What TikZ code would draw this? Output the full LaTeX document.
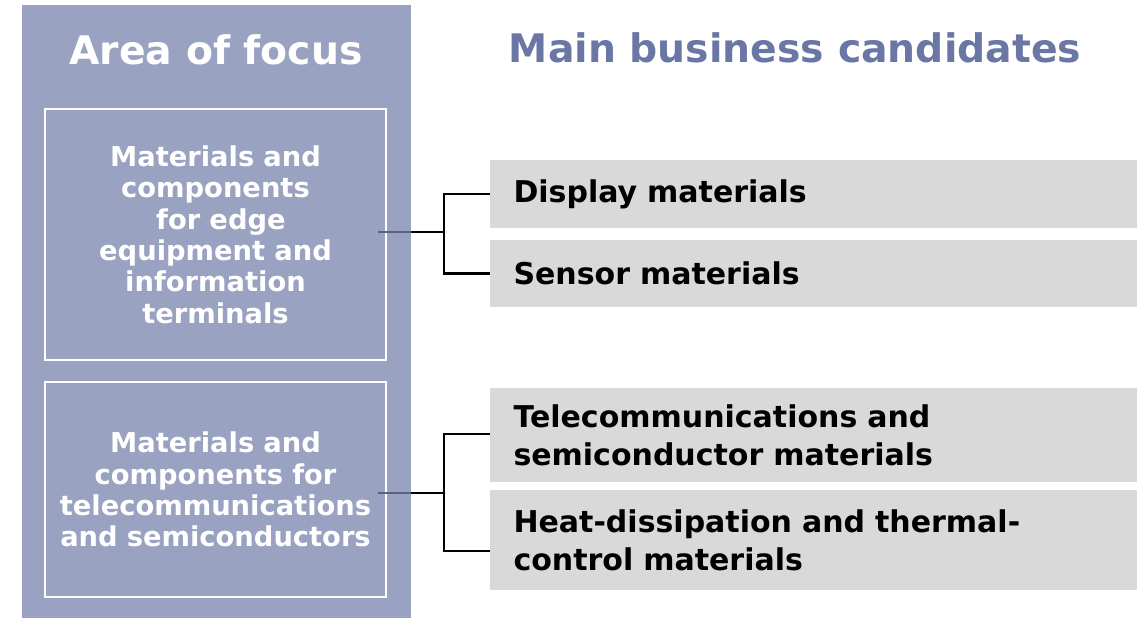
\documentclass[tikz,border=0pt]{standalone}
\usepackage{fontspec}
\setmainfont{DejaVu Sans}
\definecolor{panelc}{HTML}{99A2C0}
\definecolor{titlec}{HTML}{6A77A5}
\definecolor{grayc}{HTML}{D9D9D9}
\definecolor{darkln}{HTML}{5A6282}
\begin{document}
\begin{tikzpicture}[x=0.75pt,y=-0.75pt,
  panel/.style={fill=panelc,inner sep=0pt,minimum width=389*0.75pt,minimum height=613*0.75pt},
  focusbox/.style={draw=white,line width=1.5pt,inner sep=0pt,minimum width=341*0.75pt,text width=336*0.75pt,align=center,text=white,font=\fontsize{20.5}{23.5}\selectfont\bfseries},
  candbox/.style={fill=grayc,inner sep=0pt,minimum width=647*0.75pt,text width=600*0.75pt,align=left,font=\fontsize{22.5}{28.5}\selectfont\bfseries},
  conn/.style={line width=2.2pt,black},
  connin/.style={line width=2.2pt,darkln}]
\useasboundingbox (0,0) rectangle (1147,620);
\node[panel] (panel) at (216.5,311.5) {};
\node[text=white,font=\fontsize{29.5}{34}\selectfont\bfseries] (t1) at (216,50) {Area of focus};
\node[text=titlec,font=\fontsize{29.5}{34}\selectfont\bfseries] (t2) at (795,48) {Main business candidates};
\node[focusbox,minimum height=251*0.75pt] (f1) at (215.5,234.5) {Materials and\\components\\\hspace{0.4em}for edge\\equipment and\\information\\terminals};
\node[focusbox,minimum height=215*0.75pt] (f2) at (215.5,489.5) {Materials and\\components for\\telecommunications\\and semiconductors};
\node[candbox,minimum height=68*0.75pt] (d1) at (813.5,194) {Display materials};
\node[candbox,minimum height=67*0.75pt] (d2) at (813.5,273.5) {Sensor materials};
\node[candbox,minimum height=94*0.75pt] (d3) at (813.5,435) {Telecommunications and\\semiconductor materials};
\node[candbox,minimum height=100*0.75pt] (d4) at (813.5,540) {Heat-dissipation and thermal-\\control materials};
\coordinate (s1) at (378,232);
\coordinate (j1) at (444,232);
\coordinate (s2) at (378,493);
\coordinate (j2) at (444,493);
\draw[connin] (s1) -- (panel.east |- s1);
\draw[conn] (panel.east |- s1) -- (j1);
\draw[conn] (d1.west) -- (j1 |- d1.west) -- (j1 |- d2.west) -- (d2.west);
\draw[connin] (s2) -- (panel.east |- s2);
\draw[conn] (panel.east |- s2) -- (j2);
\draw[conn] (d3.west |- 0,434) -- (j2 |- 0,434) -- (j2 |- 0,551) -- (d4.west |- 0,551);
\end{tikzpicture}
\end{document}
